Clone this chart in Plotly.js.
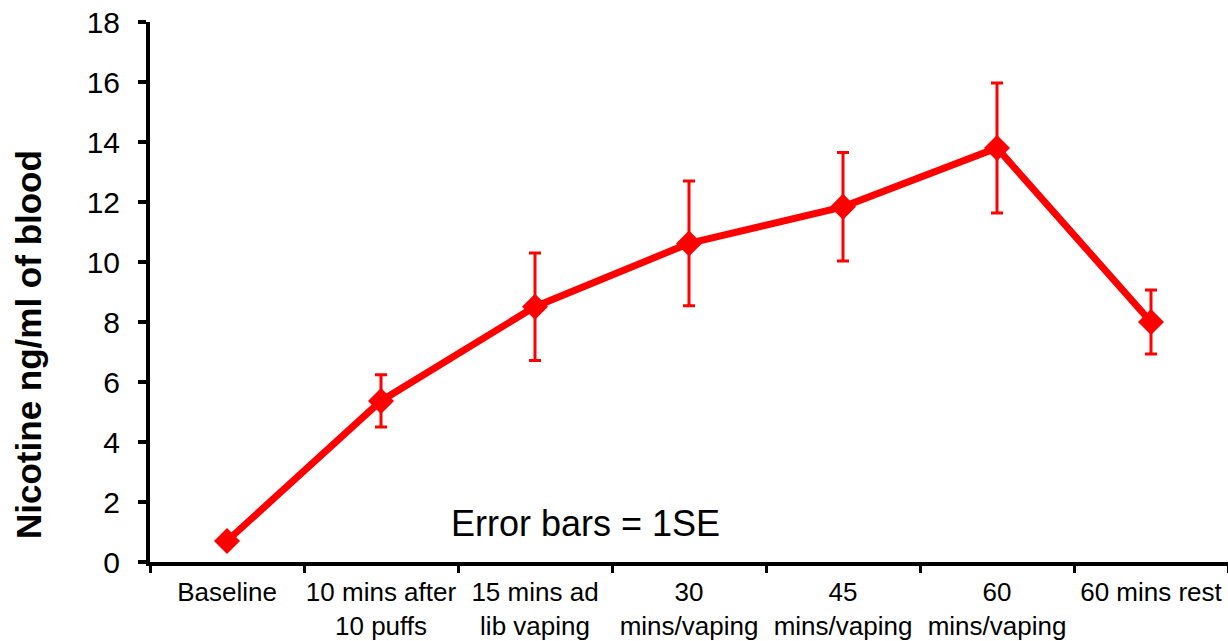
<!DOCTYPE html>
<html>
<head>
<meta charset="utf-8">
<script src="https://cdn.plot.ly/plotly-3.0.1.min.js"></script>
<style>html,body{margin:0;padding:0;background:#fff;}#chart{width:1228px;height:641px;}</style>
</head>
<body>
<div id="chart"></div>
<script>
var categories = ["Baseline", "10 mins after<br>10 puffs", "15 mins ad<br>lib vaping", "30<br>mins/vaping", "45<br>mins/vaping", "60<br>mins/vaping", "60 mins rest"];
var nicotine = [0.7, 5.37, 8.51, 10.62, 11.84, 13.8, 8.0];
var standardError = [0, 0.87, 1.79, 2.08, 1.81, 2.17, 1.07];
var yTickValues = [0, 2, 4, 6, 8, 10, 12, 14, 16, 18];
var noteText = "Error bars = 1SE";
var yTitle = "Nicotine ng/ml of blood";

var trace = {
  type: "scatter",
  mode: "lines+markers",
  x: categories,
  y: nicotine,
  line: {color: "#ff0000", width: 7},
  marker: {symbol: "diamond", size: 20, color: "#ff0000"},
  error_y: {type: "data", array: standardError, visible: true, color: "#ff0000", thickness: 3, width: 6},
  cliponaxis: false,
  showlegend: false
};

var layout = {
  width: 1228, height: 641,
  margin: {l: 150, r: 0, t: 22, b: 79},
  paper_bgcolor: "#ffffff", plot_bgcolor: "#ffffff",
  font: {family: "Liberation Sans, Arial, sans-serif", color: "#000000"},
  xaxis: {
    type: "category",
    range: [-0.5, 6.5],
    tickson: "boundaries",
    tickangle: 0,
    ticks: "outside", ticklen: 7, tickwidth: 3, tickcolor: "#000",
    showline: true, linewidth: 4, linecolor: "#000",
    showgrid: false, zeroline: false,
    tickfont: {size: 26, color: "#000"},
    ticklabelstandoff: 4,
    fixedrange: true
  },
  yaxis: {
    range: [0, 18],
    tickmode: "array", tickvals: yTickValues,
    ticks: "outside", ticklen: 8, tickwidth: 4, tickcolor: "#000",
    showline: true, linewidth: 4, linecolor: "#000",
    showgrid: false, zeroline: false,
    tickfont: {size: 30, color: "#000"},
    ticklabelstandoff: 12,
    fixedrange: true
  },
  annotations: [{
    xref: "paper", yref: "y",
    x: 0.404, y: 1.3,
    text: noteText, showarrow: false,
    font: {size: 36, color: "#000"},
    xanchor: "center", yanchor: "middle"
  }, {
    xref: "paper", yref: "paper",
    x: -0.1132, y: 0.4037,
    text: "<b>" + yTitle + "</b>", showarrow: false,
    textangle: -90,
    font: {size: 35, color: "#000"},
    xanchor: "center", yanchor: "middle"
  }]
};

Plotly.newPlot("chart", [trace], layout, {displayModeBar: false, staticPlot: true});
</script>
</body>
</html>
